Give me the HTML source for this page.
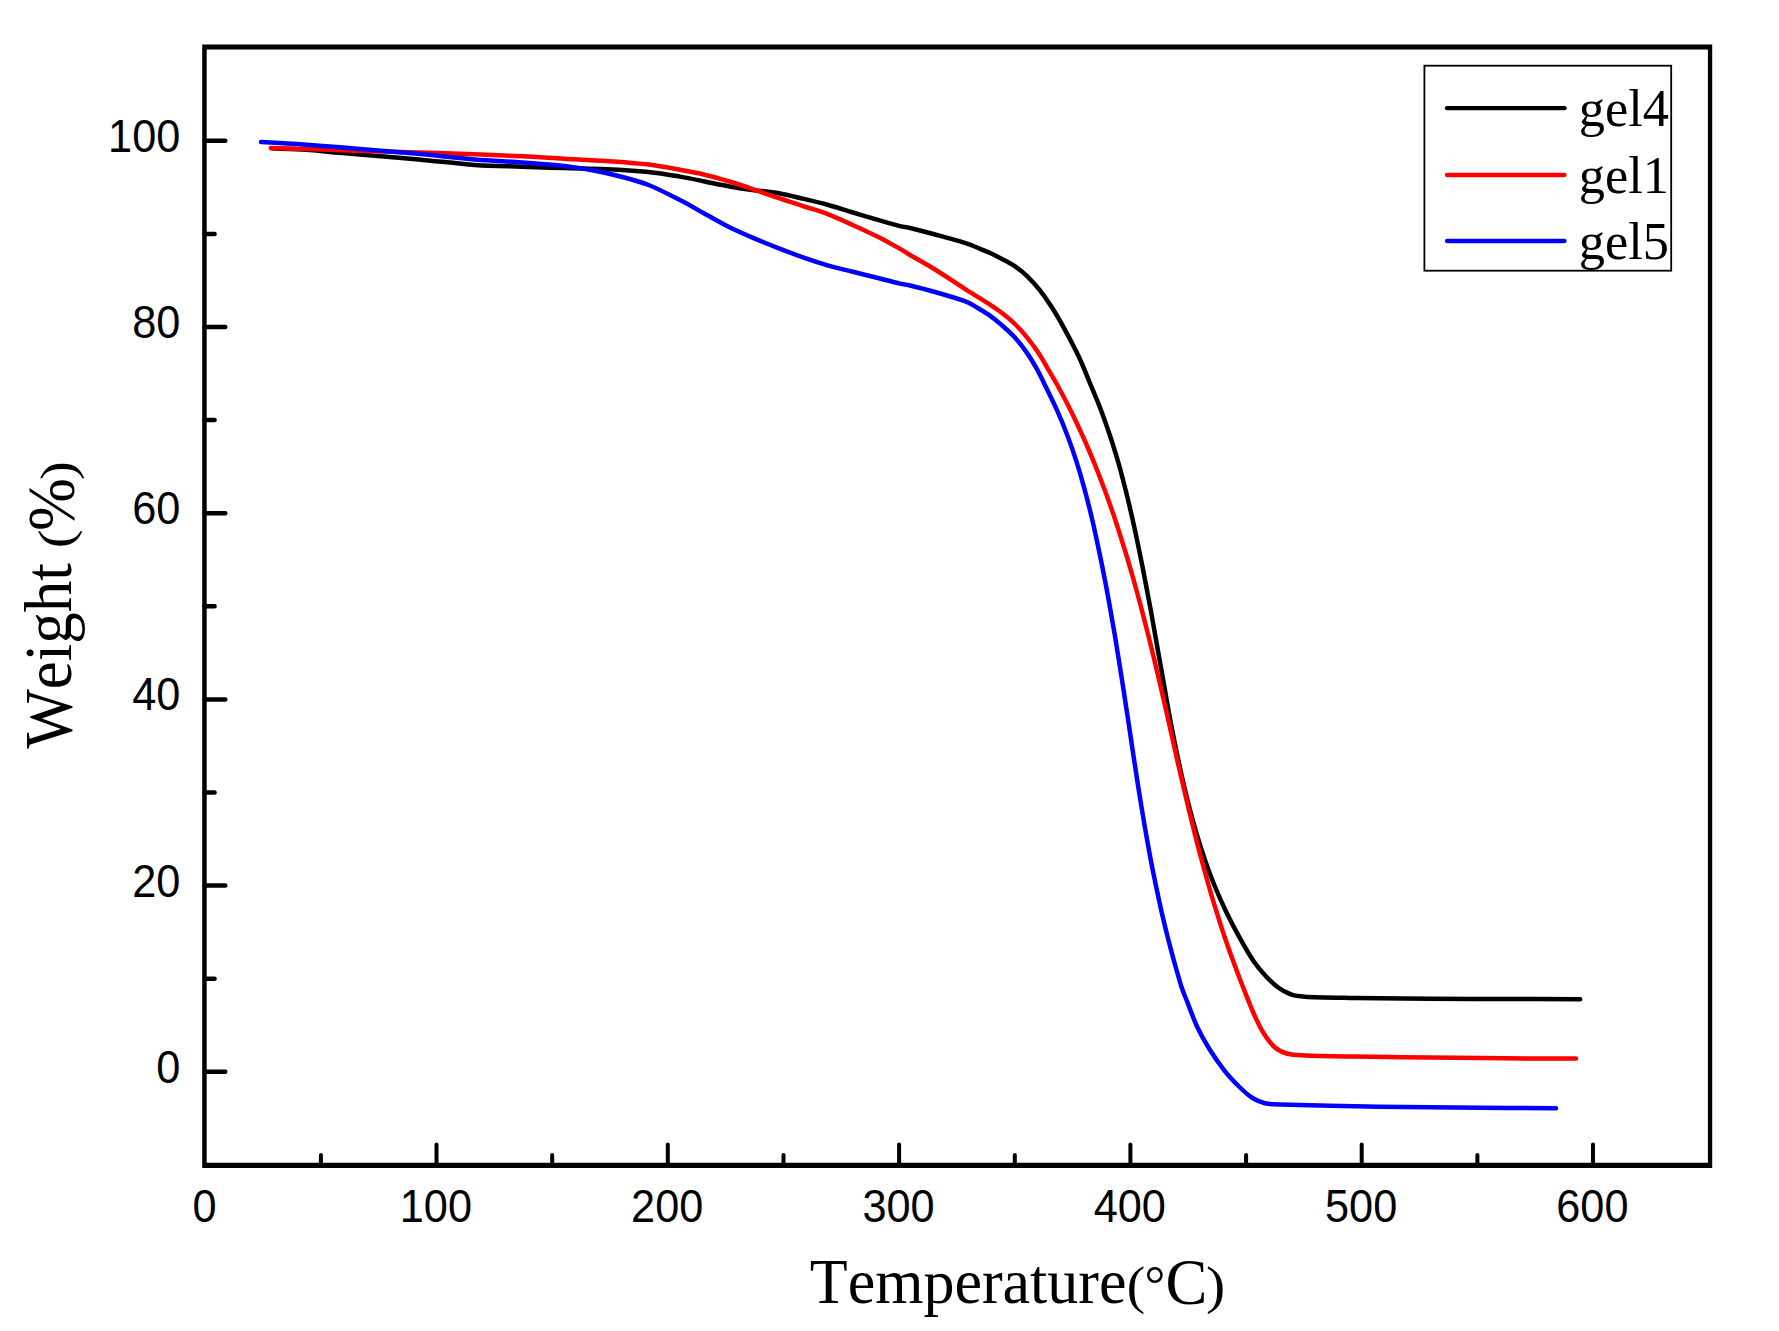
<!DOCTYPE html>
<html><head><meta charset="utf-8"><title>TGA</title>
<style>html,body{margin:0;padding:0;background:#fff;}body{width:1779px;height:1331px;overflow:hidden;}svg{display:block;}text{fill:#000;font-kerning:none;}.tk{font-family:"Liberation Sans",Arial,sans-serif;font-size:43.3px;}.ser{font-family:"Liberation Serif","Times New Roman",serif;}</style></head><body>
<svg width="1779" height="1331" viewBox="0 0 1779 1331">
<rect width="1779" height="1331" fill="#fff"/>
<g fill="none" stroke-width="4.5" stroke-linecap="round" stroke-linejoin="round">
<path stroke="#000" d="M271.5 148.3C277.2 148.6 295.5 149.1 306.0 149.8C316.5 150.5 324.9 151.6 334.3 152.4C343.7 153.2 348.3 153.6 362.4 154.8C376.4 156.0 399.9 157.7 418.6 159.4C437.3 161.1 457.5 163.8 474.8 165.0C492.1 166.2 507.3 166.2 522.2 166.7C537.1 167.2 550.2 167.7 564.3 168.1C578.3 168.5 592.5 168.5 606.5 169.2C620.5 169.8 636.4 170.8 648.6 172.0C660.9 173.2 670.6 175.0 680.0 176.6C689.4 178.2 696.5 179.8 704.7 181.5C713.0 183.2 721.2 185.1 729.5 186.5C737.8 187.9 746.0 189.1 754.2 190.2C762.4 191.3 770.6 191.9 778.9 193.3C787.1 194.8 795.5 197.0 803.7 198.9C812.0 200.8 820.2 202.7 828.4 205.0C836.6 207.3 844.9 210.0 853.1 212.5C861.4 215.0 870.1 217.6 877.9 219.9C885.7 222.2 894.6 224.8 900.0 226.1C905.4 227.4 904.2 226.6 910.0 228.0C915.8 229.4 925.9 232.0 935.0 234.5C944.1 237.0 957.8 240.7 964.8 242.9C971.8 245.1 972.9 245.8 977.0 247.5C981.1 249.2 985.4 250.9 989.6 252.8C993.8 254.7 997.9 256.8 1002.0 259.0C1006.1 261.2 1010.3 263.1 1014.4 265.9C1018.5 268.7 1022.7 271.9 1026.8 275.8C1030.9 279.7 1035.1 284.2 1039.2 289.4C1043.3 294.6 1047.4 300.4 1051.5 306.8C1055.6 313.2 1059.8 320.4 1063.9 327.8C1068.0 335.2 1073.2 345.2 1076.3 351.4C1079.4 357.6 1080.1 359.4 1082.5 365.0C1084.9 370.6 1087.6 377.4 1090.7 385.0C1093.8 392.6 1098.0 402.2 1101.2 410.7C1104.4 419.2 1107.3 427.6 1110.1 436.0C1112.9 444.4 1115.5 452.9 1118.0 461.4C1120.5 469.9 1122.6 478.4 1124.8 486.8C1127.0 495.2 1129.0 503.7 1130.9 512.1C1132.9 520.6 1134.7 529.0 1136.5 537.5C1138.3 546.0 1140.1 554.9 1141.7 562.8C1143.3 570.7 1144.5 577.1 1146.0 585.0C1147.5 592.9 1149.2 601.9 1150.8 610.4C1152.3 618.9 1153.8 627.3 1155.3 635.7C1156.8 644.1 1158.3 652.5 1159.8 661.0C1161.3 669.5 1162.8 677.9 1164.3 686.4C1165.8 694.9 1167.2 703.3 1168.8 711.8C1170.3 720.2 1171.9 728.6 1173.6 737.1C1175.3 745.6 1177.0 754.0 1178.8 762.5C1180.6 771.0 1182.6 779.9 1184.5 787.8C1186.4 795.7 1187.9 802.1 1190.0 810.0C1192.1 817.9 1194.6 826.9 1197.1 835.4C1199.6 843.9 1202.3 852.3 1205.2 860.7C1208.1 869.1 1211.2 877.5 1214.7 886.0C1218.2 894.5 1221.9 902.9 1226.0 911.4C1230.1 919.9 1234.6 928.5 1239.2 936.8C1243.8 945.1 1249.2 954.6 1253.5 961.0C1257.8 967.4 1260.8 970.7 1265.0 975.2C1269.2 979.7 1274.3 984.7 1278.5 987.8C1282.7 990.9 1285.6 992.5 1290.0 994.0C1294.4 995.5 1294.2 996.0 1305.0 996.7C1315.8 997.4 1334.2 997.6 1355.0 998.0C1375.8 998.4 1405.0 998.6 1430.0 998.8C1455.0 999.0 1480.0 998.9 1505.0 999.0C1530.0 999.1 1567.7 999.2 1580.2 999.3"/>
<path stroke="#f00" d="M270.8 147.9C276.7 148.1 290.9 148.4 306.2 148.9C321.5 149.4 343.7 150.4 362.4 151.0C381.1 151.6 399.9 151.9 418.6 152.5C437.3 153.1 457.5 153.7 474.8 154.3C492.1 154.9 507.3 155.5 522.2 156.2C537.1 156.9 550.2 157.9 564.3 158.7C578.3 159.5 592.5 160.1 606.5 161.1C620.5 162.1 636.4 163.1 648.6 164.6C660.9 166.1 670.6 168.1 680.0 169.8C689.4 171.5 696.5 172.8 704.7 174.7C713.0 176.6 721.2 179.0 729.5 181.5C737.8 184.0 746.0 186.8 754.2 189.6C762.4 192.4 770.6 195.4 778.9 198.2C787.1 201.0 795.5 203.6 803.7 206.3C812.0 209.0 820.2 211.2 828.4 214.3C836.6 217.5 844.9 221.4 853.1 225.2C861.4 228.9 870.1 232.9 877.9 236.8C885.7 240.8 894.6 245.9 900.0 248.9C905.4 251.9 904.2 251.6 910.0 255.0C915.8 258.4 925.9 263.9 935.0 269.5C944.1 275.1 955.7 283.0 964.8 288.8C973.9 294.6 983.4 300.3 989.6 304.3C995.8 308.3 997.9 309.8 1002.0 313.0C1006.1 316.2 1010.3 319.5 1014.4 323.5C1018.5 327.5 1022.7 332.0 1026.8 337.1C1030.9 342.2 1035.7 348.6 1039.2 353.9C1042.7 359.2 1044.8 363.5 1047.8 368.7C1050.8 373.9 1053.5 378.0 1057.3 385.0C1061.1 392.0 1066.6 402.2 1070.8 410.7C1075.0 419.2 1078.9 427.6 1082.7 436.0C1086.5 444.4 1090.1 452.9 1093.6 461.4C1097.1 469.9 1100.3 478.4 1103.5 486.8C1106.7 495.2 1109.7 503.7 1112.6 512.1C1115.5 520.6 1118.2 529.0 1120.9 537.5C1123.6 546.0 1126.4 554.9 1128.7 562.8C1131.0 570.7 1132.8 577.1 1135.0 585.0C1137.2 592.9 1139.7 601.9 1141.9 610.4C1144.1 618.9 1146.3 627.3 1148.4 635.7C1150.5 644.1 1152.6 652.5 1154.6 661.0C1156.6 669.5 1158.6 677.9 1160.6 686.4C1162.6 694.9 1164.5 703.3 1166.4 711.8C1168.3 720.2 1170.2 728.6 1172.1 737.1C1174.0 745.6 1175.9 754.0 1177.8 762.5C1179.7 771.0 1181.8 779.9 1183.7 787.8C1185.6 795.7 1187.0 802.1 1188.9 810.0C1190.8 817.9 1193.1 826.9 1195.2 835.4C1197.3 843.9 1199.5 852.3 1201.8 860.7C1204.1 869.1 1206.4 877.5 1208.8 886.0C1211.2 894.5 1213.8 902.9 1216.4 911.4C1219.0 919.9 1221.8 928.3 1224.6 936.8C1227.4 945.2 1230.5 953.9 1233.5 962.1C1236.5 970.3 1239.4 977.9 1242.6 986.0C1245.8 994.1 1249.3 1003.5 1252.6 1011.0C1255.9 1018.5 1258.8 1025.2 1262.5 1031.3C1266.2 1037.4 1270.8 1043.8 1275.0 1047.5C1279.2 1051.2 1282.5 1052.5 1287.5 1053.8C1292.5 1055.1 1293.8 1055.0 1305.0 1055.5C1316.2 1056.0 1334.2 1056.2 1355.0 1056.5C1375.8 1056.8 1405.0 1057.2 1430.0 1057.5C1455.0 1057.8 1480.7 1058.1 1505.0 1058.3C1529.3 1058.5 1564.2 1058.5 1576.0 1058.5"/>
<path stroke="#00f" d="M261.0 142.0C268.5 142.4 289.3 143.5 306.2 144.7C323.1 145.9 343.7 147.7 362.4 149.2C381.1 150.7 399.9 152.1 418.6 153.8C437.3 155.5 457.5 158.0 474.8 159.4C492.1 160.8 507.3 161.4 522.2 162.5C537.1 163.6 552.6 164.7 564.3 166.0C576.0 167.3 583.0 168.4 592.4 170.2C601.8 171.9 611.1 174.0 620.5 176.5C629.9 179.0 638.7 181.1 648.6 185.0C658.5 188.9 670.6 195.3 680.0 200.1C689.4 204.9 696.5 209.2 704.7 213.7C713.0 218.2 721.2 223.2 729.5 227.3C737.8 231.4 746.0 234.9 754.2 238.4C762.4 241.9 770.6 245.1 778.9 248.3C787.1 251.5 795.5 254.7 803.7 257.6C812.0 260.5 820.2 263.2 828.4 265.6C836.6 268.0 844.9 269.7 853.1 271.8C861.4 273.9 870.1 276.0 877.9 278.0C885.7 280.0 894.6 282.4 900.0 283.6C905.4 284.9 904.2 284.1 910.0 285.5C915.8 286.9 925.9 289.4 935.0 292.0C944.1 294.6 957.8 298.6 964.8 301.2C971.8 303.8 972.9 305.1 977.0 307.5C981.1 309.9 985.4 312.4 989.6 315.4C993.8 318.4 997.9 321.8 1002.0 325.4C1006.1 329.0 1010.3 332.6 1014.4 337.1C1018.5 341.6 1023.1 347.3 1026.8 352.6C1030.5 357.9 1033.7 363.3 1036.7 368.7C1039.7 374.1 1041.5 378.0 1044.9 385.0C1048.3 392.0 1053.4 402.2 1057.2 410.7C1061.0 419.2 1064.4 427.6 1067.6 436.0C1070.8 444.4 1073.7 452.9 1076.4 461.4C1079.1 469.9 1081.6 478.4 1083.9 486.8C1086.2 495.2 1088.4 503.7 1090.4 512.1C1092.5 520.6 1094.4 529.0 1096.2 537.5C1098.0 546.0 1099.9 554.9 1101.5 562.8C1103.1 570.7 1104.4 577.1 1105.9 585.0C1107.4 592.9 1109.0 601.9 1110.5 610.4C1112.0 618.9 1113.5 627.3 1114.9 635.7C1116.3 644.1 1117.7 652.5 1119.0 661.0C1120.3 669.5 1121.7 677.9 1123.0 686.4C1124.3 694.9 1125.6 703.3 1126.9 711.8C1128.2 720.2 1129.4 728.6 1130.7 737.1C1132.0 745.6 1133.2 754.0 1134.5 762.5C1135.8 771.0 1137.2 779.9 1138.4 787.8C1139.7 795.7 1140.7 802.1 1142.0 810.0C1143.3 817.9 1144.8 826.9 1146.3 835.4C1147.8 843.9 1149.3 852.3 1150.9 860.7C1152.5 869.1 1154.2 877.5 1156.0 886.0C1157.8 894.5 1159.6 902.9 1161.5 911.4C1163.4 919.9 1165.5 928.3 1167.6 936.8C1169.7 945.2 1171.9 953.6 1174.3 962.1C1176.7 970.6 1179.5 980.8 1181.7 987.5C1183.9 994.2 1184.9 995.8 1187.5 1002.5C1190.1 1009.2 1193.8 1019.6 1197.5 1027.5C1201.2 1035.4 1205.4 1042.7 1210.0 1050.0C1214.6 1057.3 1220.0 1065.0 1225.0 1071.3C1230.0 1077.5 1235.4 1083.0 1240.0 1087.5C1244.6 1092.0 1248.3 1095.4 1252.5 1098.0C1256.7 1100.6 1260.4 1102.2 1265.0 1103.3C1269.6 1104.4 1269.2 1104.1 1280.0 1104.5C1290.8 1104.9 1309.2 1105.4 1330.0 1105.8C1350.8 1106.2 1380.0 1106.7 1405.0 1107.0C1430.0 1107.3 1454.8 1107.6 1480.0 1107.8C1505.2 1108.0 1543.3 1108.2 1556.0 1108.3"/>
</g>
<path fill="#000" fill-rule="evenodd" d="M202.2 44.5H1712.2V1167.9H202.2ZM206.7 49.5V1162.8H1707.9V49.5Z"/>
<path d="M320.9 1165.2V1155.1M436.5 1165.2V1144.4M552.2 1165.2V1155.1M667.8 1165.2V1144.4M783.5 1165.2V1155.1M899.1 1165.2V1144.4M1014.8 1165.2V1155.1M1130.4 1165.2V1144.4M1246.1 1165.2V1155.1M1361.7 1165.2V1144.4M1477.4 1165.2V1155.1M1593.0 1165.2V1144.4" fill="none" stroke="#000" stroke-width="4.0" stroke-linecap="round"/>
<path d="M204.5 1071.8H225.3M204.5 978.7H214.6M204.5 885.6H225.3M204.5 792.5H214.6M204.5 699.4H225.3M204.5 606.3H214.6M204.5 513.2H225.3M204.5 420.1H214.6M204.5 327.0H225.3M204.5 233.9H214.6M204.5 140.8H225.3" fill="none" stroke="#000" stroke-width="4.5" stroke-linecap="round"/>
<g class="tk" text-anchor="middle">
<text transform="translate(204.6 1221.75) scale(1 1.065)">0</text>
<text transform="translate(435.9 1221.75) scale(1 1.065)">100</text>
<text transform="translate(667.2 1221.75) scale(1 1.065)">200</text>
<text transform="translate(898.5 1221.75) scale(1 1.065)">300</text>
<text transform="translate(1129.8 1221.75) scale(1 1.065)">400</text>
<text transform="translate(1361.1 1221.75) scale(1 1.065)">500</text>
<text transform="translate(1592.4 1221.75) scale(1 1.065)">600</text>
</g>
<g class="tk" text-anchor="end">
<text transform="translate(180.3 1082.8) scale(1 1.065)">0</text>
<text transform="translate(180.3 896.6) scale(1 1.065)">20</text>
<text transform="translate(180.3 710.4) scale(1 1.065)">40</text>
<text transform="translate(180.3 524.2) scale(1 1.065)">60</text>
<text transform="translate(180.3 338.0) scale(1 1.065)">80</text>
<text transform="translate(180.3 151.8) scale(1 1.065)">100</text>
</g>
<text class="ser" font-size="62" transform="translate(809.80 1303.10) scale(1 1.01)">Temperature</text>
<text class="ser" font-size="56.5" transform="translate(1126.70 1302.90) scale(0.98 0.921)">(</text>
<text class="ser" font-size="52" transform="translate(1144.50 1301.60)">°</text>
<text class="ser" font-size="62.8" transform="translate(1165.50 1303.50) scale(1 1.033)">C</text>
<text class="ser" font-size="56.5" transform="translate(1205.90 1302.90) scale(1.02 0.921)">)</text>
<text class="ser" font-size="63" transform="translate(71.00 748.60) rotate(-90) scale(1 1.07)">Weight</text>
<text class="ser" font-size="56.5" transform="translate(72.30 548.30) rotate(-90) scale(1 0.868)">(</text>
<text class="ser" font-size="63.4" transform="translate(74.30 531.10) rotate(-90) scale(1 1.065)">%</text>
<text class="ser" font-size="56.5" transform="translate(73.50 480.10) rotate(-90) scale(1 0.868)">)</text>
<rect x="1424.4" y="65.7" width="246.8" height="205.0" fill="#fff" stroke="#000" stroke-width="1.8"/>
<g fill="none" stroke-width="4.3" stroke-linecap="round"><path stroke="#000" d="M1447 108.2H1564.5"/><path stroke="#f00" d="M1447 175H1564.5"/><path stroke="#00f" d="M1447 241H1564.5"/></g>
<text class="ser" font-size="52.4" transform="translate(1578.85 126.00) scale(1 1.024)">gel4</text>
<text class="ser" font-size="52.4" transform="translate(1578.85 192.50) scale(1 1.024)">gel1</text>
<text class="ser" font-size="52.4" transform="translate(1578.85 259.00) scale(1 1.024)">gel5</text>
</svg>
</body></html>
